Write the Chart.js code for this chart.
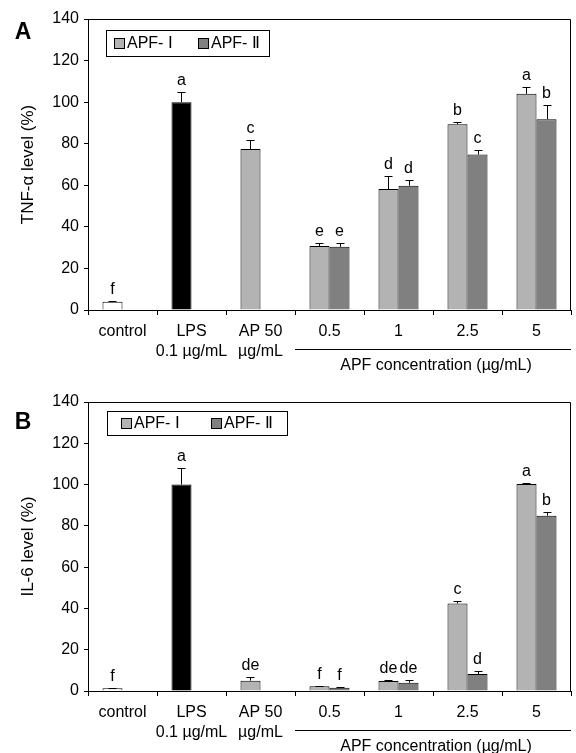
<!DOCTYPE html>
<html>
<head>
<meta charset="utf-8">
<script src="https://cdn.jsdelivr.net/npm/chart.js@4.4.1/dist/chart.umd.min.js"></script>
<style>
body{margin:0;background:#fff;}
canvas{position:absolute;left:0;}
</style>
</head>
<body>
<canvas id="graficoA" width="576" height="376" style="top:0"></canvas>
<canvas id="graficoB" width="576" height="377" style="top:376px"></canvas>
<script>
// categorias do eixo x (linhas multiplas onde precisa)
const categorias = [["control"], ["LPS", "0.1 µg/mL"], ["AP 50", "µg/mL"], "0.5", "1", "2.5", "5"]
const yTicks = [0, 20, 40, 60, 80, 100, 120, 140]
const series = ["APF- Ⅰ", "APF- Ⅱ"]

// painel A - TNF-alfa
const tnfApf1 = [4.0, 100, 77.4, 30.8, 58.2, 89.4, 104.0]
const tnfApf1Erro = [0.3, 5.0, 4.6, 1.2, 6.4, 1.1, 3.4]
const tnfApf1Letras = ["f", "a", "c", "e", "d", "b", "a"]
const tnfApf2 = [0, 0, 0, 30.4, 59.8, 74.8, 91.8]
const tnfApf2Erro = [null, null, null, 1.6, 2.7, 2.4, 7.0]
const tnfApf2Letras = ["", "", "", "e", "d", "c", "b"]

// painel B - IL-6
const il6Apf1 = [1.3, 100, 5.0, 2.3, 4.8, 42.4, 100.3]
const il6Apf1Erro = [0.2, 8.0, 1.6, 0.2, 0.3, 1.3, 0.4]
const il6Apf1Letras = ["f", "a", "de", "f", "de", "c", "a"]
const il6Apf2 = [0, 0, 0, 1.6, 4.0, 8.2, 84.9]
const il6Apf2Erro = [null, null, null, 0.5, 1.3, 1.5, 1.6]
const il6Apf2Letras = ["", "", "", "f", "de", "d", "b"]

const fonte = "'Liberation Sans', Arial, sans-serif"
const cinzaClaro = "#b3b3b3"
const cinzaEscuro = "#808080"
const coresBarra1 = ["#ffffff", "#000000", cinzaClaro, cinzaClaro, cinzaClaro, cinzaClaro, cinzaClaro]

const anotacoes = {//desenha moldura, barras de erro, letras, legenda e textos extras
    id: "anotacoes",
    afterDatasetsDraw(chart, args, op) {
        const ctx = chart.ctx, area = chart.chartArea, y = chart.scales.y, x = chart.scales.x
        ctx.save()
        ctx.strokeStyle = "#000"
        ctx.lineWidth = 1
        ctx.beginPath()//moldura de cima e da direita
        ctx.moveTo(area.left, area.top + 0.5)
        ctx.lineTo(area.right - 0.5, area.top + 0.5)
        ctx.lineTo(area.right - 0.5, area.bottom)
        ctx.stroke()
        ctx.font = "16px " + fonte
        ctx.fillStyle = "#000"
        ctx.textAlign = "center"
        ctx.textBaseline = "alphabetic"
        chart.data.datasets.forEach((ds, i) => {
            chart.getDatasetMeta(i).data.forEach((barra, j) => {
                let erro = ds.erros[j]
                if (erro == null) return
                let topo = Math.round(y.getPixelForValue(ds.data[j] + erro)) + 0.5
                let xc = Math.round(barra.x) + 0.5
                ctx.beginPath()
                ctx.moveTo(xc, barra.y)
                ctx.lineTo(xc, topo)
                ctx.moveTo(xc - 4, topo)
                ctx.lineTo(xc + 4, topo)
                ctx.stroke()
                ctx.fillText(ds.letras[j], barra.x, topo - 8)
            })
        })
        // legenda com caixa
        let lg = op.legenda
        ctx.strokeRect(lg.x + 0.5, lg.y + 0.5, lg.w, lg.h)
        ctx.textAlign = "left"
        ctx.textBaseline = "middle"
        chart.data.datasets.forEach((ds, i) => {
            let lx = lg.itens[i]
            ctx.fillStyle = ds.corLegenda
            ctx.fillRect(lx + 0.5, lg.y + lg.h / 2 - 4.5, 10, 10)
            ctx.strokeRect(lx + 0.5, lg.y + lg.h / 2 - 4.5, 10, 10)
            ctx.fillStyle = "#000"
            ctx.fillText(ds.label, lx + 13, lg.y + lg.h / 2 + 1)
        })
        // linha e titulo da concentracao de APF
        let passo = x.width / categorias.length
        let inicio = x.getPixelForValue(3) - passo / 2
        ctx.beginPath()
        ctx.moveTo(inicio, area.bottom + op.linhaY + 0.5)
        ctx.lineTo(x.right, area.bottom + op.linhaY + 0.5)
        ctx.stroke()
        ctx.textAlign = "center"
        ctx.fillText("APF concentration (µg/mL)", (inicio + x.right) / 2 + 3, area.bottom + op.textoY)
        // letra do painel
        ctx.font = "bold 23px " + fonte
        ctx.fillText(op.painel, 23, op.painelY)
        ctx.restore()
    }
}

function makeGrafico(id, d) {//monta um painel de barras
    let canvas = document.getElementById(id)
    return new Chart(canvas, {
        type: "bar",
        data: {
            labels: categorias,
            datasets: [{
                label: series[0],
                data: d.serie1,
                erros: d.erro1,
                letras: d.letras1,
                backgroundColor: coresBarra1,
                corLegenda: cinzaClaro,
                borderColor: "#000",
                borderWidth: 1
            }, {
                label: series[1],
                data: d.serie2,
                erros: d.erro2,
                letras: d.letras2,
                backgroundColor: cinzaEscuro,
                corLegenda: cinzaEscuro,
                borderColor: "#000",
                borderWidth: 1
            }]
        },
        options: {
            responsive: false,
            animation: false,
            categoryPercentage: 0.58,
            barPercentage: 1,
            layout: { padding: { left: 14, right: 5, top: d.topo, bottom: 0 } },
            plugins: {
                legend: { display: false },
                tooltip: { enabled: false },
                anotacoes: { legenda: d.legenda, linhaY: 39, textoY: 56, painel: d.painel, painelY: d.painelY }
            },
            scales: {
                x: {
                    grid: { drawOnChartArea: false, tickLength: 5, color: "#000", offset: true },
                    border: { color: "#000" },
                    ticks: { color: "#000", padding: 7, font: { family: fonte, size: 16, lineHeight: 1.25 }, maxRotation: 0, autoSkip: false },
                    afterFit: (s) => { s.height = d.alturaX }
                },
                y: {
                    min: 0,
                    max: 140,
                    afterBuildTicks: (s) => { s.ticks = yTicks.map(v => ({ value: v })) },
                    grid: { drawOnChartArea: false, tickLength: 4, color: "#000" },
                    border: { color: "#000" },
                    ticks: { color: "#000", padding: 5, font: { family: fonte, size: 16 } },
                    title: { display: true, text: d.tituloY, color: "#000", font: { family: fonte, size: 17 }, padding: { top: 4, bottom: 0 } },
                    afterFit: (s) => { s.width = 74 }
                }
            }
        },
        plugins: [anotacoes]
    })
}

makeGrafico("graficoA", {
    serie1: tnfApf1, erro1: tnfApf1Erro, letras1: tnfApf1Letras,
    serie2: tnfApf2, erro2: tnfApf2Erro, letras2: tnfApf2Letras,
    tituloY: "TNF-α level (%)", painel: "A", painelY: 33,
    topo: 19, alturaX: 66,
    legenda: { x: 106, y: 30, w: 163, h: 26, itens: [114, 198] }
})
makeGrafico("graficoB", {
    serie1: il6Apf1, erro1: il6Apf1Erro, letras1: il6Apf1Letras,
    serie2: il6Apf2, erro2: il6Apf2Erro, letras2: il6Apf2Letras,
    tituloY: "IL-6 level (%)", painel: "B", painelY: 47,
    topo: 26, alturaX: 62,
    legenda: { x: 107, y: 35, w: 180, h: 24, itens: [121, 211] }
})
</script>
</body>
</html>
